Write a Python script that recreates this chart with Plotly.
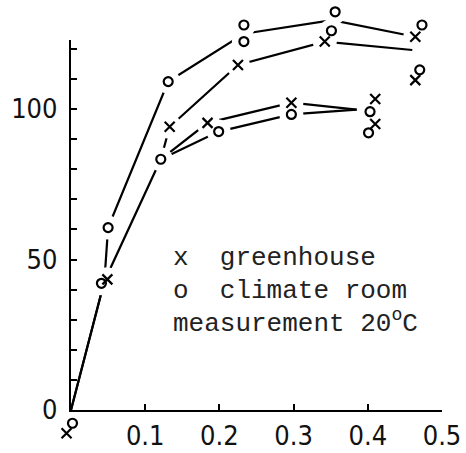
import plotly.graph_objects as go

# ---- data ----
# connecting lines (mean curves)
climate_line_x = [0, 0.045, 0.050, 0.131, 0.233, 0.352, 0.464]
climate_line_y = [0, 42.8, 60.6, 109.1, 125.0, 129.5, 124.0]
greenhouse_line_x = [0, 0.045, 0.121, 0.133, 0.225, 0.342, 0.460]
greenhouse_line_y = [0, 42.8, 83.3, 94.1, 114.6, 122.4, 119.6]
lower_greenhouse_line_x = [0.121, 0.184, 0.297, 0.385]
lower_greenhouse_line_y = [83.3, 95.4, 102.1, 99.8]
lower_climate_line_x = [0.121, 0.199, 0.297, 0.385]
lower_climate_line_y = [83.3, 92.5, 98.2, 99.8]

# individual measurements
greenhouse_x = [-0.006, 0.049, 0.133, 0.225, 0.342, 0.464, 0.464, 0.184, 0.297, 0.410, 0.410]
greenhouse_y = [-7.7, 43.4, 94.1, 114.6, 122.4, 124.0, 109.6, 95.4, 102.1, 103.3, 95.0]
climate_x = [0.002, 0.041, 0.050, 0.131, 0.121, 0.233, 0.233, 0.356, 0.351, 0.473, 0.470,
             0.199, 0.297, 0.403, 0.401]
climate_y = [-4.4, 42.1, 60.6, 109.1, 83.3, 127.9, 122.4, 132.3, 126.0, 127.9, 113.0,
             92.5, 98.2, 99.1, 92.1]

x_tick_vals = [0.1, 0.2, 0.3, 0.4, 0.5]
x_tick_text = ["0.1", "0.2", "0.3", "0.4", "0.5"]
y_tick_vals = [0, 50, 100]
y_tick_text = ["0", "50", "100"]
y_minor_step = 10

legend_lines = ["x\u00a0\u00a0greenhouse", "o\u00a0\u00a0climate room", "measurement 20<sup>o</sup>C"]

# ---- geometry ----
W, H = 466, 453
x0_px, px_per_x = 71.0, 742.0
y0_px, px_per_y = 410.0, 3.01
y_axis_top = 123

xr = [(0 - x0_px) / px_per_x, (W - x0_px) / px_per_x]
yr = [(y0_px - H) / px_per_y, y0_px / px_per_y]

fig = go.Figure()
line_style = dict(color="black", width=2.2)
for lx, ly in [(climate_line_x, climate_line_y), (greenhouse_line_x, greenhouse_line_y),
               (lower_greenhouse_line_x, lower_greenhouse_line_y),
               (lower_climate_line_x, lower_climate_line_y)]:
    fig.add_trace(go.Scatter(x=lx, y=ly, mode="lines", line=line_style,
                             hoverinfo="skip", showlegend=False))

# white halos to create the gaps around markers (as in the hand-drawn original)
fig.add_trace(go.Scatter(x=greenhouse_x + climate_x, y=greenhouse_y + climate_y, mode="markers",
                         marker=dict(symbol="circle", size=24, color="white",
                                     line=dict(width=0, color="white")),
                         hoverinfo="skip", showlegend=False, cliponaxis=False))
fig.add_trace(go.Scatter(x=greenhouse_x, y=greenhouse_y, mode="markers", name="greenhouse",
                         marker=dict(symbol="x-thin-open", size=10, color="black",
                                     line=dict(width=2.2, color="black")),
                         showlegend=False, cliponaxis=False))
fig.add_trace(go.Scatter(x=climate_x, y=climate_y, mode="markers", name="climate room",
                         marker=dict(symbol="circle-open", size=9, color="black",
                                     line=dict(width=2.2, color="black")),
                         showlegend=False, cliponaxis=False))
# dummy trace so the display axes exist
fig.add_trace(go.Scatter(x=[], y=[], xaxis="x2", yaxis="y2", showlegend=False))

tick_font = dict(family="Liberation Sans Narrow, DejaVu Sans Condensed, Liberation Sans, sans-serif",
                 size=27, color="#111")
leg_font = dict(family="Liberation Mono, DejaVu Sans Mono, monospace", size=26, color="#222")

legend_y = [50.5, 39.5, 29.4]
for txt, ly in zip(legend_lines, legend_y):
    fig.add_annotation(x=(171 - x0_px) / px_per_x, y=ly, xref="x", yref="y", text=txt,
                       showarrow=False, xanchor="left", yanchor="middle", font=leg_font)

fig.update_layout(
    width=W, height=H, template="none",
    margin=dict(l=0, r=0, t=0, b=0),
    paper_bgcolor="white", plot_bgcolor="rgba(0,0,0,0)",
    showlegend=False,
    xaxis=dict(domain=[0, 1], range=xr, visible=False, automargin=False),
    yaxis=dict(domain=[0, 1], range=yr, visible=False, automargin=False),
    xaxis2=dict(domain=[x0_px / W, (x0_px + 0.5 * px_per_x) / W], range=[0, 0.5], anchor="y2",
                showline=True, linecolor="black", linewidth=2.2, ticks="inside", ticklen=6,
                tickwidth=2, tickcolor="black", tickvals=x_tick_vals, ticktext=x_tick_text,
                tickfont=tick_font, showgrid=False, zeroline=False, automargin=False,
                ticklabelstandoff=0),
    yaxis2=dict(domain=[(H - y0_px) / H, (H - y0_px + y_axis_top * px_per_y) / H],
                range=[0, y_axis_top], anchor="x2",
                showline=True, linecolor="black", linewidth=2.2, ticks="inside", ticklen=6,
                tickwidth=2, tickcolor="black", tickvals=y_tick_vals, ticktext=y_tick_text,
                minor=dict(tick0=0, dtick=y_minor_step, ticks="inside", ticklen=6,
                           tickwidth=2, tickcolor="black", showgrid=False),
                tickfont=tick_font, showgrid=False, zeroline=False, automargin=False,
                ticklabelstandoff=6),
)

fig.write_html("out.html")
